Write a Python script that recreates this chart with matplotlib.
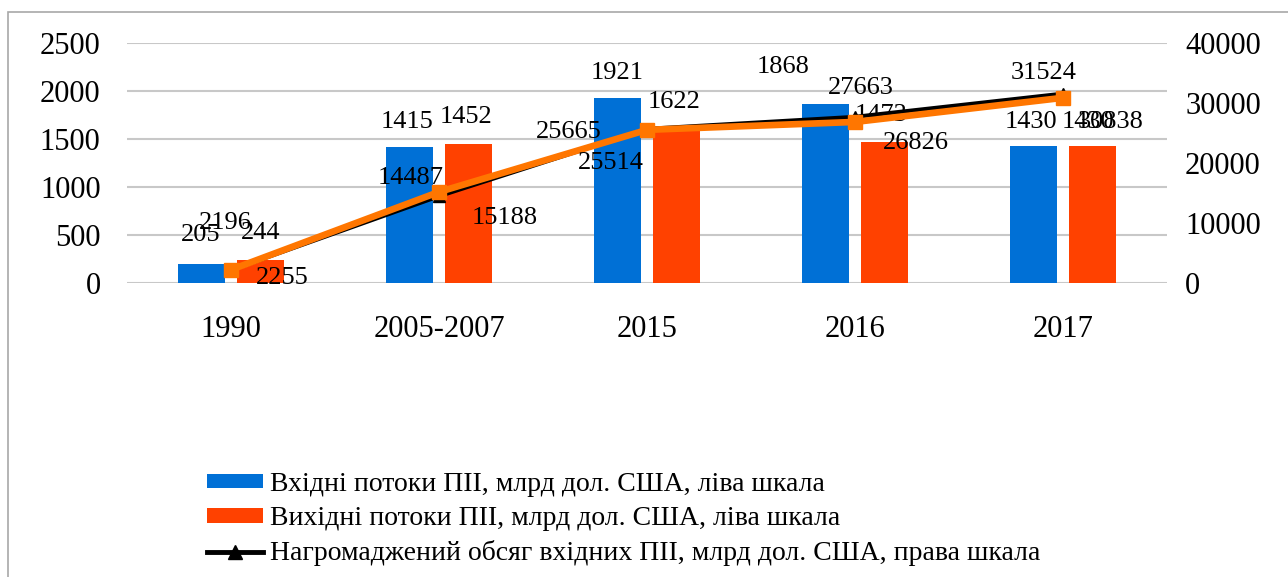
import numpy as np
import matplotlib
matplotlib.use("Agg")
import matplotlib.pyplot as plt
from matplotlib.patches import Patch, Rectangle
from matplotlib.lines import Line2D

plt.rcParams["font.family"] = ["Liberation Serif", "DejaVu Serif"]

# data
years = ["1990", "2005-2007", "2015", "2016", "2017"]
inflows = [205, 1415, 1921, 1868, 1430]          # left axis, blue bars
outflows = [244, 1452, 1622, 1473, 1430]         # left axis, red bars
inward_stock = [2196, 14487, 25665, 27663, 31524]   # right axis, black line
outward_stock = [2255, 15188, 25514, 26826, 30838]  # right axis, orange line

legend_labels = [
    "Вхідні потоки ПІІ, млрд дол. США, ліва шкала",
    "Вихідні потоки ПІІ, млрд дол. США, ліва шкала",
    "Нагромаджений обсяг вхідних ПІІ, млрд дол. США, права шкала",
]

BLUE = "#0070D6"
RED = "#FF4100"
ORANGE = "#FF7600"
GRID = "#C8C8C8"

# label offsets in pixels (dx, dy up), placed by hand as in the source
off_in = [(-1, 29), (-2, 25), (0, 25), (-42, 37), (-2, 24)]
off_out = [(0, 27), (-2, 27), (-2, 25), (-3, 27), (-5, 24)]
off_inst = [(-6, 47), (-28, 18), (-78, -3), (6, 29), (-19, 21)]
off_outst = [(51, -8), (66, -26), (-36, -33), (61, -21), (48, -24)]

W, H = 1288, 577
fig = plt.figure(figsize=(W / 100, H / 100), dpi=100)
fig.patches.append(Rectangle((7.5 / W, -0.1), 1.2, 1.1 - 12 / H,
                             transform=fig.transFigure, fill=False,
                             edgecolor="#A8A8A8", lw=1.2))

ax = fig.add_axes([127 / W, 1 - 283.3 / H, 1040 / W, 240.6 / H])
ax2 = ax.twinx()

x = np.arange(len(years))
bw = 0.224
dx = 0.142
ax.bar(x - dx, inflows, bw, color=BLUE, zorder=2)
ax.bar(x + dx, outflows, bw, color=RED, zorder=2)

ax2.plot(x, inward_stock, color="black", lw=3, marker="^", ms=8, zorder=3)
ax2.plot(x, outward_stock, color=ORANGE, lw=4.8, marker="s", ms=10,
         zorder=4)

ax.set_xlim(-0.5, len(years) - 0.5)
ax.set_ylim(0, 2500)
ax.set_yticks(np.arange(0, 2501, 500))
ax2.set_ylim(0, 40000)
ax2.set_yticks(np.arange(0, 40001, 10000))
ax.set_xticks(x)
ax.set_xticklabels(years)

ax.grid(axis="y", color=GRID, lw=1.5)
ax.set_axisbelow(True)
for a in (ax, ax2):
    for s in a.spines.values():
        s.set_visible(False)
ax.tick_params(axis="both", length=0, labelsize=22)
ax.tick_params(axis="y", pad=19)
ax.tick_params(axis="x", pad=23)
ax2.tick_params(axis="y", length=0, labelsize=22, pad=13)

lab_kw = dict(textcoords="offset pixels", ha="center", va="center",
              fontsize=19, color="black", zorder=6)
for i in range(len(years)):
    ax.annotate(f"{inflows[i]}", (x[i] - dx, inflows[i]), xytext=off_in[i], **lab_kw)
    ax.annotate(f"{outflows[i]}", (x[i] + dx, outflows[i]), xytext=off_out[i], **lab_kw)
    ax2.annotate(f"{inward_stock[i]}", (x[i], inward_stock[i]), xytext=off_inst[i], **lab_kw)
    ax2.annotate(f"{outward_stock[i]}", (x[i], outward_stock[i]), xytext=off_outst[i], **lab_kw)

handles = [
    Patch(facecolor=BLUE),
    Patch(facecolor=RED),
    Line2D([], [], color="black", lw=3.5, marker="^", ms=10),
]
fig.legend(handles, legend_labels, loc="upper left",
           bbox_to_anchor=(207 / W, 1 - 472 / H), frameon=False,
           fontsize=20, handlelength=2.0, handleheight=0.43,
           handletextpad=0.25, labelspacing=0.33, borderpad=0,
           borderaxespad=0)

fig.savefig("out.png", dpi=100)
